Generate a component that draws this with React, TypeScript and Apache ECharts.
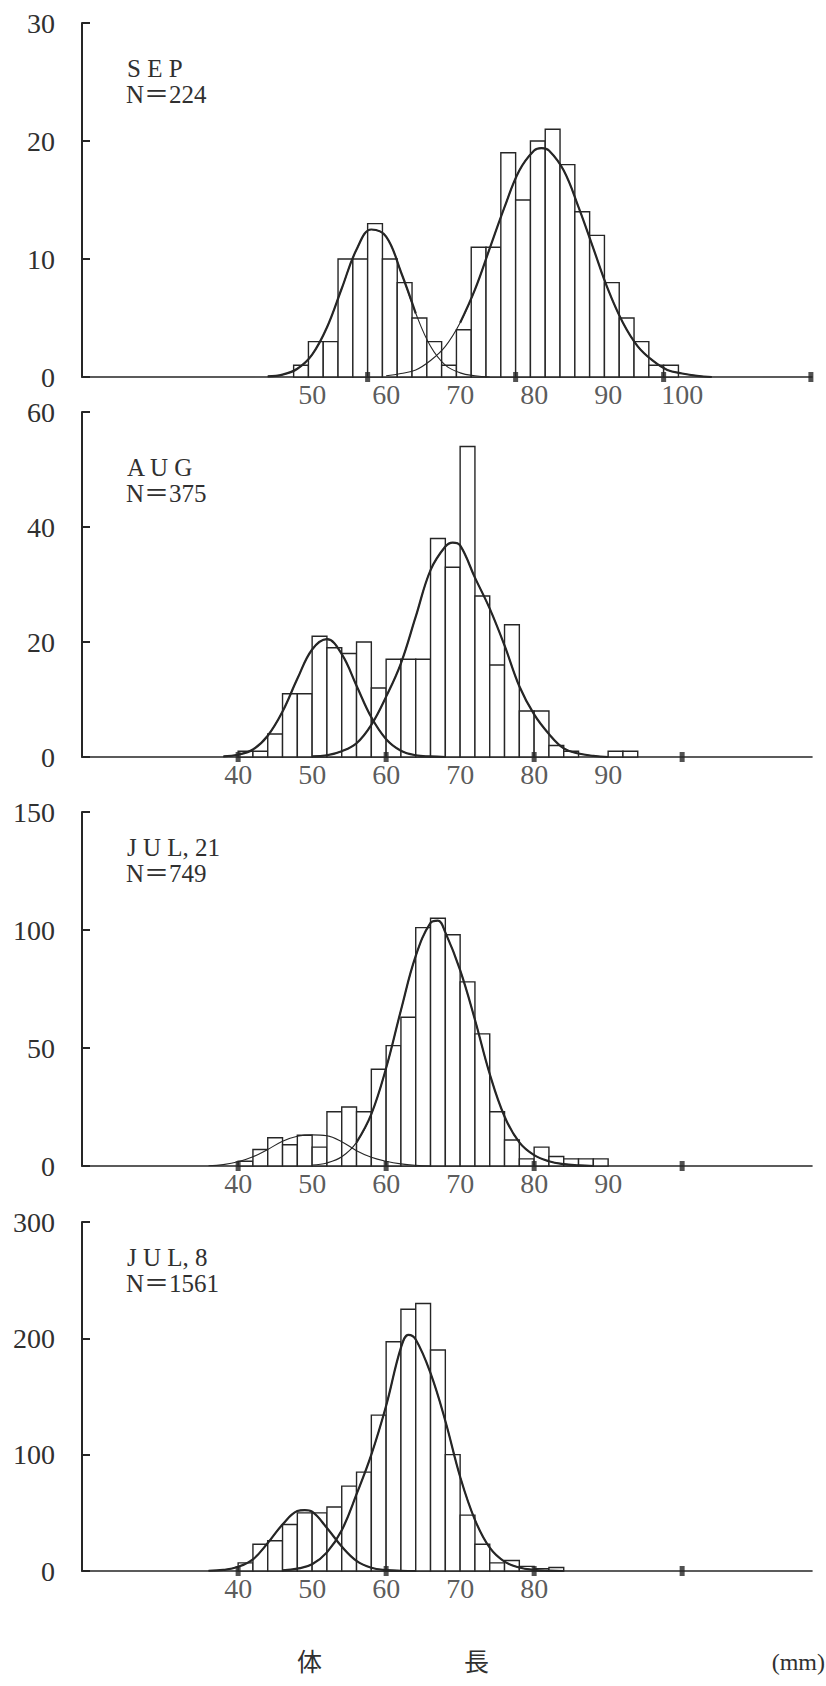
import React, { useEffect, useRef } from "react";
import * as echarts from "echarts";

// ---------- data ----------
const BIN_WIDTH = 2; // mm per histogram class

// SEP
const sepBinStart = 47.5;
const sepCounts = [1, 3, 3, 10, 10, 13, 10, 8, 5, 3, 1, 4, 11, 11, 19, 15, 20, 21, 18, 14, 12, 8, 5, 3, 1, 1];
const sepCurveA = [[44, 0.05], [46, 0.2], [48, 0.7], [50, 1.9], [52, 4.2], [54, 7.5], [56, 10.8], [58, 12.5], [60, 11.9], [62, 8.9], [64, 5.4], [66, 2.6], [68, 1.0], [70, 0.35], [72, 0.1], [74, 0]];
const sepCurveB = [[60, 0.1], [62, 0.3], [64, 0.6], [66, 1.4], [68, 2.6], [70, 4.6], [72, 7.4], [74, 10.9], [76, 14.4], [78, 17.5], [80, 19.2], [81, 19.4], [82, 19.2], [84, 17.5], [86, 14.4], [88, 10.9], [90, 7.4], [92, 4.6], [94, 2.6], [96, 1.4], [98, 0.6], [100, 0.3], [102, 0.1], [104, 0]];
const sepXLabels = [50, 60, 70, 80, 90, 100];
const sepXTicks = [57.5, 77.5, 97.5, 117.4];

// AUG
const augBinStart = 40;
const augCounts = [1, 1, 4, 11, 11, 21, 19, 18, 20, 12, 17, 17, 17, 38, 33, 54, 28, 16, 23, 8, 8, 2, 1, 0, 0, 1, 1];
const augCurveA = [[38, 0.1], [40, 0.4], [42, 1.3], [44, 3.7], [46, 7.9], [48, 13.6], [50, 18.7], [52, 20.5], [54, 17.9], [56, 12.4], [58, 6.9], [60, 3.1], [62, 1.1], [64, 0.3], [66, 0.1], [68, 0]];
const augCurveB = [[50, 0.1], [52, 0.3], [54, 1.0], [56, 2.4], [58, 5.6], [60, 10.5], [62, 16.3], [64, 24.4], [66, 32.5], [68, 36.6], [69, 37.3], [70, 36.8], [72, 31.2], [74, 25.8], [76, 19.4], [78, 12.3], [80, 7.4], [82, 4.0], [84, 1.5], [86, 0.6], [88, 0.2], [90, 0]];
const augXLabels = [40, 50, 60, 70, 80, 90];
const augXTicks = [40, 60, 80, 100];

// JUL, 21
const jul21BinStart = 40;
const jul21Counts = [2, 7, 12, 9, 13, 8, 23, 25, 23, 41, 51, 63, 101, 105, 98, 78, 56, 23, 11, 3, 8, 4, 3, 3, 3];
const jul21CurveA = [[36, 0.1], [38, 0.6], [40, 1.8], [42, 3.9], [44, 7.0], [46, 10.5], [48, 12.6], [50, 13.2], [52, 12.8], [54, 10.3], [56, 6.5], [58, 3.7], [60, 2.0], [62, 0.9], [64, 0.3], [66, 0]];
const jul21CurveB = [[50, 0.4], [52, 1.3], [54, 3.9], [56, 10], [58, 22], [60, 41.5], [62, 66], [64, 89], [66, 103], [67, 104], [68, 99], [70, 83], [72, 62], [74, 39], [76, 21], [78, 10], [80, 4.6], [82, 2.0], [84, 0.8], [86, 0.3], [88, 0]];
const jul21XLabels = [40, 50, 60, 70, 80, 90];
const jul21XTicks = [40, 60, 80, 100];

// JUL, 8
const jul8BinStart = 40;
const jul8Counts = [7, 23, 26, 40, 50, 50, 55, 73, 85, 134, 197, 225, 230, 190, 100, 48, 23, 7, 9, 4, 2, 3];
const jul8CurveA = [[36, 0.2], [38, 0.9], [40, 3.6], [42, 10], [44, 24], [46, 40], [48, 51.5], [49, 52.4], [50, 51], [52, 37], [54, 21], [56, 8.7], [58, 2.8], [60, 0.8], [62, 0.2], [64, 0]];
const jul8CurveB = [[46, 0.5], [48, 2], [50, 5.8], [52, 16], [54, 35], [56, 66], [58, 100], [60, 142], [62, 192], [63, 203], [64, 199], [66, 170], [68, 129], [70, 81], [72, 44], [74, 20], [76, 8], [78, 3], [80, 1], [82, 0.3], [84, 0]];
const jul8XLabels = [40, 50, 60, 70, 80];
const jul8XTicks = [40, 60, 80, 100];

const yMaxes = [30, 60, 150, 300];
const yIntervals = [10, 20, 50, 100];
const panelTitles = ["S E P", "A U G", "J U L, 21", "J U L, 8"];
const panelNs = ["N＝224", "N＝375", "N＝749", "N＝1561"];
const axisTitle = ["体", "長", "(mm)"];

// ---------- layout / style ----------
const X_MIN = 18.9;
const X_MAX = 117.55;
const GRID_LEFT = 82;
const GRID_WIDTH = 730;
const gridBoxes = [
  { top: 23, bottom: 377 },
  { top: 412, bottom: 757 },
  { top: 812, bottom: 1166 },
  { top: 1222, bottom: 1571 },
];
const titleTops = [56, 455, 835, 1245];
const nTops = [82, 481, 861, 1271];
// range (mm) of each curve drawn with the heavy stroke; outside it the curve is a fine line
const heavyRanges = [
  [[0, 64.5], [69, 200]],
  [[0, 200], [0, 200]],
  [[200, 200], [56, 200]],
  [[0, 200], [0, 200]],
];
const INK = "#262626";
const TEXT = "#303030";
const SERIF = '"Liberation Serif", "Times New Roman", "Noto Sans CJK JP", serif';

export default function App() {
  const ref = useRef<HTMLDivElement>(null);

  useEffect(() => {
    document.body.style.margin = "0";
    document.body.style.background = "#ffffff";
    if (!ref.current) return;
    const chart = echarts.init(ref.current, undefined, { renderer: "svg" });

    const panels = [
      { start: sepBinStart, counts: sepCounts, curves: [sepCurveA, sepCurveB], labels: sepXLabels, ticks: sepXTicks },
      { start: augBinStart, counts: augCounts, curves: [augCurveA, augCurveB], labels: augXLabels, ticks: augXTicks },
      { start: jul21BinStart, counts: jul21Counts, curves: [jul21CurveA, jul21CurveB], labels: jul21XLabels, ticks: jul21XTicks },
      { start: jul8BinStart, counts: jul8Counts, curves: [jul8CurveA, jul8CurveB], labels: jul8XLabels, ticks: jul8XTicks },
    ];

    const grid = gridBoxes.map((g) => ({ left: GRID_LEFT, width: GRID_WIDTH, top: g.top, height: g.bottom - g.top }));
    const xAxis = panels.map((_, i) => ({
      type: "value",
      gridIndex: i,
      min: X_MIN,
      max: X_MAX,
      axisLine: { show: true, onZero: false, lineStyle: { color: INK, width: 1.6 } },
      axisTick: { show: false },
      axisLabel: { show: false },
      splitLine: { show: false },
    }));
    const yAxis = panels.map((_, i) => ({
      type: "value",
      gridIndex: i,
      min: 0,
      max: yMaxes[i],
      interval: yIntervals[i],
      axisLine: { show: true, lineStyle: { color: INK, width: 2 } },
      axisTick: { show: true, inside: true, length: 8, lineStyle: { color: INK, width: 2 } },
      axisLabel: { fontSize: 28, fontFamily: SERIF, color: TEXT, margin: 27 },
      splitLine: { show: false },
    }));

    const series: any[] = [];
    panels.forEach((p, i) => {
      series.push({
        type: "custom",
        xAxisIndex: i,
        yAxisIndex: i,
        silent: true,
        encode: { x: 0, y: 1 },
        data: p.counts.map((c, k) => [p.start + k * BIN_WIDTH, c]).filter((d) => d[1] > 0),
        renderItem: (_params: any, api: any) => {
          const x0 = api.value(0);
          const v = api.value(1);
          const a = api.coord([x0, 0]);
          const b = api.coord([x0 + BIN_WIDTH, v]);
          return {
            type: "rect",
            shape: { x: a[0], y: b[1], width: b[0] - a[0], height: a[1] - b[1] },
            style: { fill: "#ffffff", stroke: INK, lineWidth: 1.4 },
          };
        },
        z: 2,
      });
      p.curves.forEach((c, j) => {
        // fine full-length stroke
        series.push({
          type: "line",
          xAxisIndex: i,
          yAxisIndex: i,
          data: c,
          smooth: 0.4,
          showSymbol: false,
          silent: true,
          lineStyle: { color: INK, width: 1.1 },
          z: 3,
        });
        const [lo, hi] = heavyRanges[i][j];
        const heavy = c.filter((d) => d[0] >= lo && d[0] <= hi);
        if (heavy.length > 1) {
          series.push({
            type: "line",
            xAxisIndex: i,
            yAxisIndex: i,
            data: heavy,
            smooth: 0.4,
            showSymbol: false,
            silent: true,
            lineStyle: { color: INK, width: 2.2 },
            z: 3,
          });
        }
      });
      series.push({
        type: "scatter",
        xAxisIndex: i,
        yAxisIndex: i,
        silent: true,
        data: p.ticks.map((t) => [t, 0]),
        symbol: "rect",
        symbolSize: [5, 10],
        itemStyle: { color: INK },
        z: 4,
      });
      series.push({
        type: "scatter",
        xAxisIndex: i,
        yAxisIndex: i,
        silent: true,
        data: p.labels.map((t) => [t, 0]),
        symbolSize: 0,
        itemStyle: { color: "rgba(0,0,0,0)" },
        label: {
          show: true,
          position: "bottom",
          distance: 3,
          formatter: (q: any) => String(q.value[0]),
          fontSize: 28,
          fontFamily: SERIF,
          color: TEXT,
        },
        z: 4,
      });
    });

    const graphic: any[] = [];
    panelTitles.forEach((t, i) => {
      graphic.push({ type: "text", left: 127, top: titleTops[i], style: { text: t, fontSize: 25, fontFamily: SERIF, fill: TEXT } });
      graphic.push({ type: "text", left: 126, top: nTops[i], style: { text: panelNs[i], fontSize: 25, fontFamily: SERIF, fill: TEXT } });
    });
    graphic.push({ type: "text", left: 297, top: 1647, style: { text: axisTitle[0], fontSize: 25, fontFamily: '"Noto Sans CJK JP", sans-serif', fill: TEXT } });
    graphic.push({ type: "text", left: 464, top: 1647, style: { text: axisTitle[1], fontSize: 25, fontFamily: '"Noto Sans CJK JP", sans-serif', fill: TEXT } });
    graphic.push({ type: "text", right: 1, top: 1650, style: { text: axisTitle[2], fontSize: 24, fontFamily: SERIF, fill: TEXT } });

    chart.setOption({
      animation: false,
      backgroundColor: "#ffffff",
      grid,
      xAxis,
      yAxis,
      series,
      graphic,
    });

    return () => chart.dispose();
  }, []);

  return <div ref={ref} style={{ width: 826, height: 1686 }} />;
}
